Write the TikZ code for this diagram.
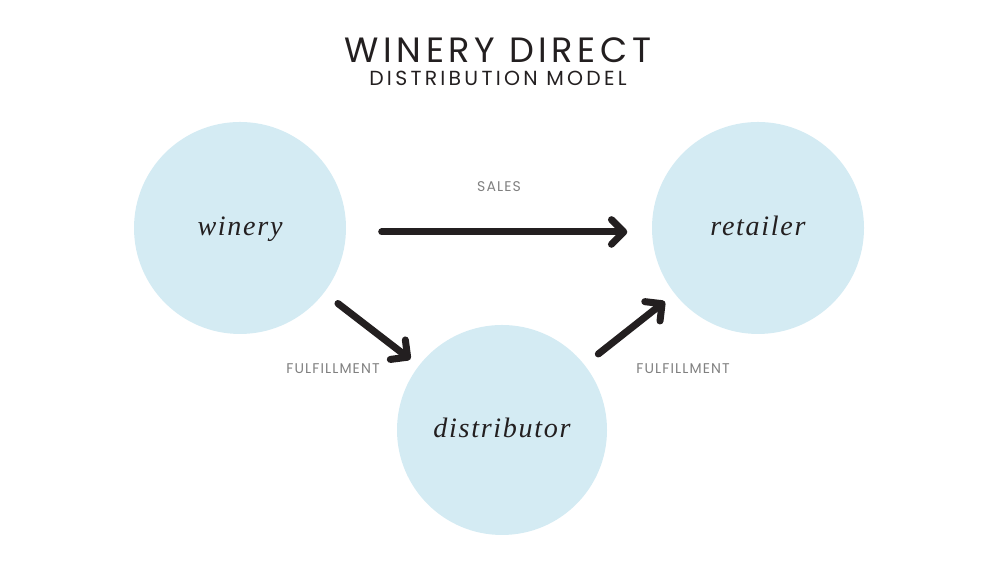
\documentclass[tikz,border=0pt]{standalone}
\usepackage{fontspec}
\setmainfont{Poppins}
\newfontfamily\nodefont{Liberation Serif}[LetterSpace=6]
\newfontfamily\capsfont{Poppins}[LetterSpace=8]
\newfontfamily\titlefont{Poppins}[LetterSpace=13]
\newfontfamily\subtitlefont{Poppins}[LetterSpace=16]
\usetikzlibrary{arrows.meta}

\definecolor{bubble}{RGB}{212,235,243}
\definecolor{ink}{RGB}{35,31,32}
\definecolor{labelgray}{RGB}{128,128,128}

\tikzset{
	party/.style={circle, fill=bubble, minimum size=2.12cm, inner sep=0pt,
		text height=0.7em, text depth=0.25em,
		font=\nodefont\itshape\fontsize{8}{9}\selectfont, text=ink},
	flow/.style={line width=2pt, ink, line cap=round,
		-{Straight Barb[length=3.5pt, width=7pt, line cap=round, line join=round]}},
	flowlabel/.style={font=\capsfont\fontsize{4}{5}\selectfont, text=labelgray}
}

\begin{document}
\begin{tikzpicture}
		\useasboundingbox (0,0) rectangle (9.99,5.67);
		
		\node (title) at (4.98,5.04) [anchor=base, text=ink, font=\titlefont\fontsize{10}{12}\selectfont] {WINERY DIRECT};
		\node (subtitle) at (4.98,4.81) [anchor=base, text=ink, font=\subtitlefont\fontsize{5.8}{7}\selectfont] {DISTRIBUTION MODEL};
		
		\node (winery) at (2.40,3.39) [party] {winery};
		\node (retailer) at (7.58,3.39) [party] {retailer};
		\node (distributor) at (5.02,1.37) [party, minimum size=2.10cm] {distributor};
		
		\draw [flow, shorten <=0.35cm, shorten >=0.24cm] ([yshift=-0.04cm]winery.east) -- ([yshift=-0.04cm]retailer.west) node[midway, above=0.25cm, flowlabel] {SALES};
		\draw [flow, shorten <=0.17cm, shorten >=0.10cm] (winery) -- (distributor);
		\draw [flow, shorten <=0.17cm, shorten >=0.12cm] (distributor) -- (retailer);
		
		\node (fulfilA) at (3.33,1.98) [flowlabel] {FULFILLMENT};
		\node (fulfilB) at (6.83,1.98) [flowlabel] {FULFILLMENT};
		\end{tikzpicture}
\end{document}
